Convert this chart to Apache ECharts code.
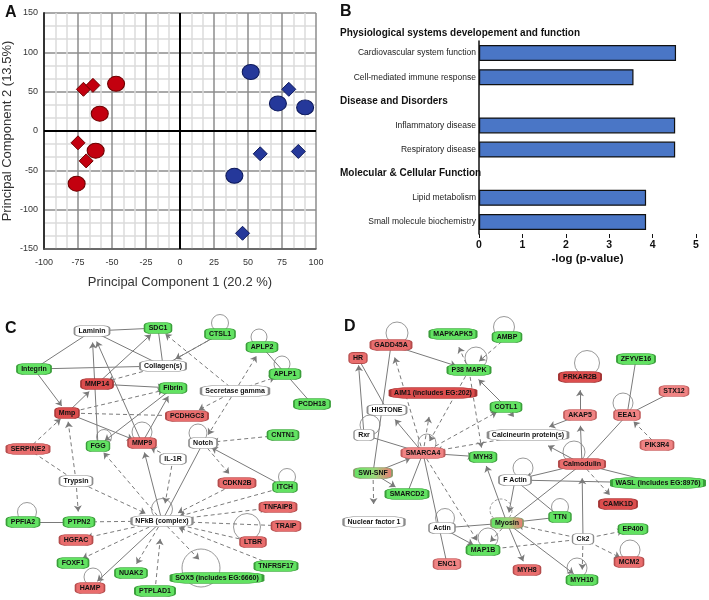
<!DOCTYPE html>
<html><head><meta charset="utf-8">
<script src="https://cdn.jsdelivr.net/npm/echarts@6/dist/echarts.min.js"></script>
<style>html,body{margin:0;padding:0;background:#fff}#c{width:709px;height:600px}</style>
</head><body><div id="c"></div>
<script>
// ---------- Panel A: PCA scores ----------
const redCircles   = [[-47,60],[-59,22],[-62,-25],[-76,-67]];
const redDiamonds  = [[-71,53],[-64,58],[-75,-15],[-69,-38]];
const blueCircles  = [[52,75],[72,35],[92,30],[40,-57]];
const blueDiamonds = [[80,53],[59,-29],[87,-26],[46,-130]];

// ---------- Panel B: -log(p-value) ----------
const bGroupHeaders = ['Physiological systems developement and function','Disease and Disorders','Molecular & Cellular Function'];
const bCategories = ['Cardiovascular system function','Cell-mediated immune response','Disease and Disorders','Inflammatory disease','Respiratory disease','Molecular & Cellular Function','Lipid metabolism','Small molecule biochemistry'];
const bValues = [4.54, 3.56, null, 4.52, 4.52, null, 3.85, 3.85];

// ---------- Panel C network ----------
const cNodes = [
 ['Laminin',92,331,'w'],['SDC1',158,328,'g'],['Integrin',34,369,'g'],['Collagen(s)',163,366,'w'],
 ['MMP14',97,384,'r1'],['Fibrin',173,388,'g'],['Mmp',67,413,'r1'],['PCDHGC3',187,416,'r2'],
 ['FGG',98,446,'g'],['MMP9',142,443,'r2'],['SERPINE2',28,449,'r2'],['CTSL1',220,334,'g'],
 ['APLP2',262,347,'g'],['APLP1',285,374,'g'],['PCDH18',312,404,'g'],['Secretase gamma',235,391,'w'],
 ['CNTN1',283,435,'g'],['Notch',203,443,'w'],['IL-1R',173,459,'w'],['Trypsin',76,481,'w'],
 ['PPFIA2',23,522,'g'],['PTPN2',79,522,'g'],['NFkB (complex)',162,521,'w'],['HGFAC',76,540,'r2'],
 ['FOXF1',73,563,'g'],['NUAK2',131,573,'g'],['HAMP',90,588,'r2'],['PTPLAD1',155,591,'g'],
 ['SOX5 (includes EG:6660)',217,578,'g'],['CDKN2B',237,483,'r2'],['ITCH',285,487,'g'],
 ['TNFAIP8',278,507,'r2'],['TRAIP',286,526,'r2'],['LTBR',253,542,'r2'],['TNFRSF17',276,566,'g']
];
const cLinks = [
 ['Laminin','SDC1','s',0],['Laminin','Integrin','s',0],['Laminin','Collagen(s)','s',0],
 ['SDC1','Collagen(s)','s',0],['Integrin','Collagen(s)','s',0],['Integrin','Mmp','s',1],
 ['Mmp','MMP14','s',1],['MMP14','Fibrin','s',1],['MMP14','SDC1','s',1],['FGG','Laminin','s',1],
 ['MMP9','Laminin','s',1],['Mmp','MMP9','s',1],['Fibrin','FGG','s',1],['MMP9','Fibrin','s',1],
 ['CTSL1','Collagen(s)','s',0],['APLP2','PCDH18','s',0],['Notch','NFkB (complex)','s',0],
 ['ITCH','Notch','s',1],['NFkB (complex)','MMP9','s',1],['PPFIA2','PTPN2','s',0],
 ['NFkB (complex)','HAMP','s',1],
 ['Collagen(s)','MMP14','d',1],['Mmp','Fibrin','d',1],['Mmp','PCDHGC3','d',1],['SERPINE2','Mmp','d',1],
 ['Trypsin','Mmp','d',1],['SERPINE2','Trypsin','d',0],['Trypsin','PTPN2','d',1],['Trypsin','NFkB (complex)','d',1],
 ['PTPN2','NFkB (complex)','d',1],['NFkB (complex)','FGG','d',1],['IL-1R','MMP9','d',1],['IL-1R','NFkB (complex)','d',1],
 ['NFkB (complex)','HGFAC','d',1],['NFkB (complex)','FOXF1','d',1],['NFkB (complex)','NUAK2','d',1],
 ['PTPLAD1','NFkB (complex)','d',1],['NFkB (complex)','SOX5 (includes EG:6660)','d',1],['CDKN2B','NFkB (complex)','d',1],
 ['ITCH','NFkB (complex)','d',1],['NFkB (complex)','TNFAIP8','d',1],['TRAIP','NFkB (complex)','d',1],
 ['LTBR','NFkB (complex)','d',1],['TNFRSF17','NFkB (complex)','d',1],['Notch','CDKN2B','d',1],
 ['CNTN1','Notch','d',1],['Secretase gamma','Notch','d',1],['Secretase gamma','APLP2','d',1],
 ['Secretase gamma','APLP1','d',1],['Secretase gamma','PCDHGC3','d',1],['Secretase gamma','SDC1','d',1],
 ['CTSL1','Collagen(s)','d',1]
];
const cLoops = [
 ['Notch',18,-5,-10],['CTSL1',17,0,-11],['APLP2',16,-3,-10],['APLP1',16,-3,-10],['PPFIA2',19,4,-10],
 ['NFkB (complex)',21,0,-12],['MMP9',20,0,-11],['FGG',15,6,-9],['LTBR',27,-6,-15],
 ['SOX5 (includes EG:6660)',38,-16,-10],['HAMP',18,3,-11],['ITCH',17,2,-10]
];

// ---------- Panel D network ----------
const dNodes = [
 ['MAPKAPK5',453,334,'g'],['AMBP',507,337,'g'],['GADD45A',391,345,'r2'],['HR',358,358,'r2'],
 ['P38 MAPK',469,370,'g'],['AIM1 (includes EG:202)',433,393,'r1'],['HISTONE',387,410,'w'],['COTL1',506,407,'g'],
 ['Rxr',364,435,'w'],['Calcineurin protein(s)',528,435,'w'],['ZFYVE16',636,359,'g'],['PRKAR2B',580,377,'r1'],
 ['STX12',674,391,'r3'],['AKAP5',580,415,'r3'],['EEA1',627,415,'r3'],['PIK3R4',657,445,'r3'],
 ['SMARCA4',423,453,'r3'],['MYH3',483,457,'g'],['SWI-SNF',373,473,'gr'],['SMARCD2',407,494,'g'],
 ['F Actin',515,480,'w'],['Nuclear factor 1',374,522,'w'],['Actin',442,528,'w'],['Myosin',507,523,'gr'],
 ['MAP1B',483,550,'g'],['ENC1',447,564,'r3'],['MYH8',527,570,'r2'],['Calmodulin',582,464,'r2'],
 ['WASL (includes EG:8976)',658,483,'g'],['CAMK1D',618,504,'r1'],['TTN',560,517,'g'],['EP400',633,529,'g'],
 ['Ck2',583,539,'w'],['MCM2',629,562,'r2'],['MYH10',582,580,'g']
];
const dLinks = [
 ['GADD45A','P38 MAPK','s',1],['P38 MAPK','MAPKAPK5','d',1],['AMBP','P38 MAPK','d',1],['COTL1','P38 MAPK','s',1],
 ['P38 MAPK','SMARCA4','d',1],['P38 MAPK','MYH3','d',1],['SMARCA4','GADD45A','d',1],['SMARCA4','AIM1 (includes EG:202)','d',1],
 ['SMARCA4','HISTONE','s',1],['SMARCA4','COTL1','d',1],['HISTONE','HR','s',0],['Rxr','HR','s',1],
 ['GADD45A','SWI-SNF','s',0],['Rxr','SMARCA4','s',0],['SWI-SNF','SMARCA4','s',1],['SMARCA4','MYH3','s',1],
 ['SMARCA4','SMARCD2','s',0],['SWI-SNF','SMARCD2','s',1],['SWI-SNF','Nuclear factor 1','d',1],['SMARCA4','ENC1','s',0],
 ['SMARCA4','MAP1B','d',1],['Calcineurin protein(s)','SMARCA4','d',1],['COTL1','Calcineurin protein(s)','d',1],
 ['AKAP5','Calcineurin protein(s)','s',1],['AKAP5','PRKAR2B','s',1],['Calmodulin','AKAP5','s',1],
 ['Calmodulin','Calcineurin protein(s)','s',1],['Calmodulin','F Actin','s',1],['Calmodulin','EEA1','s',0],
 ['Calmodulin','WASL (includes EG:8976)','s',0],['Calmodulin','CAMK1D','d',1],['EEA1','ZFYVE16','s',0],
 ['EEA1','STX12','s',0],['PIK3R4','EEA1','d',1],['F Actin','WASL (includes EG:8976)','s',0],['F Actin','Myosin','s',1],
 ['F Actin','TTN','s',0],['Myosin','MYH3','s',1],['Myosin','MYH8','s',1],['Myosin','MAP1B','d',1],['Actin','Myosin','s',0],
 ['Actin','MAP1B','s',1],['TTN','Myosin','s',0],['Ck2','Myosin','d',1],['Ck2','EP400','d',1],['Ck2','MCM2','d',1],
 ['Ck2','MYH10','d',1],['Ck2','MAP1B','d',1],['Ck2','Calmodulin','s',1],['Myosin','MYH10','s',1],['Calmodulin','Myosin','s',0]
];
const dLoops = [
 ['GADD45A',22,6,-12],['AMBP',21,-3,-10],['P38 MAPK',22,7,-12],['Rxr',20,6,-10],['SMARCA4',18,4,-10],
 ['PRKAR2B',25,7,-14],['EEA1',20,-4,-12],['Calmodulin',22,-8,-12],['F Actin',20,8,-12],['Myosin',22,-6,-13,'d'],
 ['Actin',19,3,-10],['MAP1B',20,5,-12],['TTN',17,0,-10],['MCM2',20,1,-12],['MYH10',20,-5,-12]
];

// ---------- styling helpers ----------
const FONT = 'Liberation Sans, Arial, sans-serif';
const ctx = document.createElement('canvas').getContext('2d');
ctx.font = 'bold 7px "Liberation Sans"';
const boxW = t => Math.round(ctx.measureText(t).width + 8);
const grad = new echarts.graphic.LinearGradient(0,0,1,0,[{offset:0,color:'#62e262'},{offset:0.55,color:'#9ad67a'},{offset:1,color:'#ef7272'}]);
const pal = {
  g:['#62e262','#3a9e3a'], r1:['#dc4d4d','#a53535'], r2:['#e96d6d','#b54c4c'],
  r3:['#f08383','#c05c5c'], w:['#ffffff','#8c8c8c'], gr:[grad,'#8a9a6a']
};
function makeNodes(list){
  return list.map(([name,x,y,k]) => ({
    name, value:[x,y], symbol:'roundRect', symbolSize:[boxW(name),11],
    itemStyle:{color:pal[k][0], borderColor:pal[k][1], borderWidth:1}
  }));
}
function makeLinks(list){
  return list.map(([s,t,ty,a]) => ({
    source:s, target:t, symbol:['none', a ? 'arrow' : 'none'],
    lineStyle:{type: ty==='d' ? [4,3] : 'solid'}
  }));
}
function makeLoops(loops, nodes){
  const pos = {}; nodes.forEach(n => pos[n[0]] = [n[1], n[2]]);
  return loops.map(([n,d,dx,dy,ty]) => ({
    value:pos[n], symbolSize:d, symbolOffset:[dx,dy],
    itemStyle:{borderType: ty==='d' ? [3,2] : 'solid'}
  }));
}
function graphSeries(nodes, links){
  return {
    type:'graph', coordinateSystem:'cartesian2d', xAxisIndex:2, yAxisIndex:2, z:3,
    data:makeNodes(nodes), links:makeLinks(links),
    edgeSymbolSize:6,
    lineStyle:{color:'#7a7a7a', width:1, opacity:1, curveness:0},
    label:{show:true, position:'inside', fontSize:7, fontWeight:'bold', color:'#111', fontFamily:FONT},
    emphasis:{disabled:true}, silent:true
  };
}
function loopSeries(loops, nodes){
  return {
    type:'scatter', xAxisIndex:2, yAxisIndex:2, z:2, symbol:'circle', silent:true,
    itemStyle:{color:'rgba(0,0,0,0)', borderColor:'#808080', borderWidth:1},
    data:makeLoops(loops, nodes)
  };
}
function pcaSeries(data, symbol, size, fill, border){
  return {type:'scatter', xAxisIndex:0, yAxisIndex:0, symbol, symbolSize:size, z:4,
    itemStyle:{color:fill, borderColor:border, borderWidth:1, opacity:1}, data};
}

const chart = echarts.init(document.getElementById('c'), null, {renderer:'canvas'});
const redA = pcaSeries(redCircles,'circle',[17,15],'#c3000f','#6e0000');
redA.markLine = {silent:true, symbol:['none','none'], label:{show:false},
  lineStyle:{color:'#000', width:2, type:'solid'}, data:[{xAxis:0},{yAxis:0}]};

const option = {
  animation:false,
  textStyle:{fontFamily:FONT},
  grid:[
    {left:43, top:13, width:273, height:236},
    {left:479, top:41, width:217, height:193},
    {left:0, top:0, width:709, height:600}
  ],
  xAxis:[
    {gridIndex:0, type:'value', min:-100, max:100, interval:25,
     name:'Principal Component 1 (20.2 %)', nameLocation:'middle', nameGap:27,
     nameTextStyle:{fontSize:13, color:'#333'},
     axisLine:{onZero:false, lineStyle:{color:'#555', width:1.5}}, axisTick:{show:false},
     axisLabel:{fontSize:9, color:'#333', margin:9},
     splitLine:{lineStyle:{color:'#8c8c8c', width:1.5}},
     minorTick:{show:false, splitNumber:3}, minorSplitLine:{show:true, lineStyle:{color:'#dcdcdc', width:1.5}}},
    {gridIndex:1, type:'value', min:0, max:5, interval:1,
     name:'-log (p-value)', nameLocation:'middle', nameGap:19,
     nameTextStyle:{fontSize:11.5, fontWeight:'bold', color:'#111'},
     axisLine:{lineStyle:{color:'#111', width:1.5}}, axisTick:{show:true, length:4, lineStyle:{color:'#111'}},
     axisLabel:{fontSize:10.5, fontWeight:'bold', color:'#111', margin:6}, splitLine:{show:false}},
    {gridIndex:2, type:'value', min:0, max:709, show:false}
  ],
  yAxis:[
    {gridIndex:0, type:'value', min:-150, max:150, interval:50,
     name:'Principal Component 2 (13.5%)', nameLocation:'middle', nameGap:30,
     nameTextStyle:{fontSize:13, color:'#333'},
     axisLine:{onZero:false, lineStyle:{color:'#333', width:2}}, axisTick:{show:false},
     axisLabel:{fontSize:9, color:'#333', margin:6},
     splitLine:{lineStyle:{color:'#8c8c8c', width:1.5}},
     minorTick:{show:false, splitNumber:3}, minorSplitLine:{show:true, lineStyle:{color:'#dcdcdc', width:1.5}}},
    {gridIndex:1, type:'category', inverse:true, data:bCategories,
     axisLine:{lineStyle:{color:'#111', width:1.5}}, axisTick:{show:false},
     axisLabel:{margin:3, fontSize:8.5, color:'#222',
       formatter: v => bGroupHeaders.includes(v) ? '{h|' + v + '}' : v,
       rich:{h:{width:136, align:'left', fontWeight:'bold', fontSize:10, color:'#111', fontFamily:FONT}}}},
    {gridIndex:2, type:'value', min:0, max:600, inverse:true, show:false}
  ],
  graphic:[
    {type:'text', left:5, top:5, style:{text:'A', font:'bold 16px ' + FONT, fill:'#111'}},
    {type:'text', left:340, top:4, style:{text:'B', font:'bold 16px ' + FONT, fill:'#111'}},
    {type:'text', left:5, top:321, style:{text:'C', font:'bold 16px ' + FONT, fill:'#111'}},
    {type:'text', left:344, top:319, style:{text:'D', font:'bold 16px ' + FONT, fill:'#111'}},
    {type:'text', left:340, top:28, style:{text:bGroupHeaders[0], font:'bold 10px ' + FONT, fill:'#111'}}
  ],
  series:[
    redA,
    pcaSeries(redDiamonds,'diamond',[14,14],'#c3000f','#6e0000'),
    pcaSeries(blueCircles,'circle',[17,15],'#25389a','#0e1a5c'),
    pcaSeries(blueDiamonds,'diamond',[14,14],'#25389a','#0e1a5c'),
    {type:'bar', xAxisIndex:1, yAxisIndex:1, data:bValues, barWidth:16,
     itemStyle:{color:'#4a76c6', borderColor:'#111', borderWidth:1.2}},
    loopSeries(cLoops, cNodes),
    loopSeries(dLoops, dNodes),
    graphSeries(cNodes, cLinks),
    graphSeries(dNodes, dLinks)
  ]
};
chart.setOption(option);
</script></body></html>
